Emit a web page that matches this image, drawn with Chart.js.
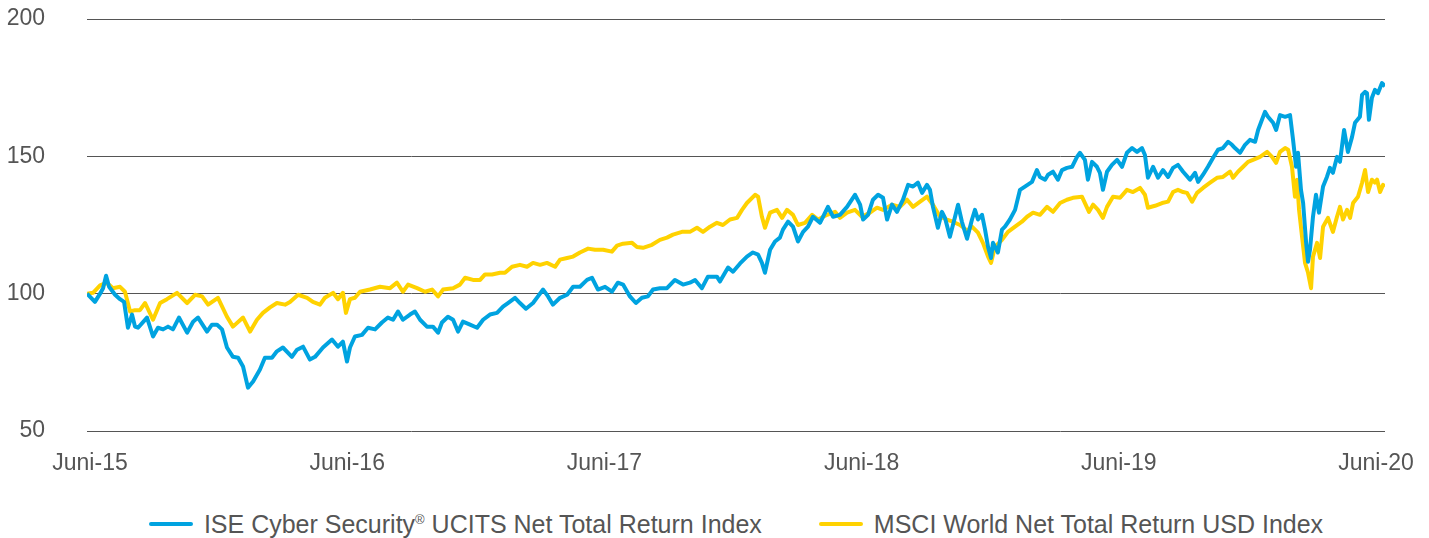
<!DOCTYPE html>
<html>
<head>
<meta charset="utf-8">
<script src="https://cdn.jsdelivr.net/npm/chart.js@4.4.1/dist/chart.umd.min.js"></script>
<style>
  html, body { margin: 0; padding: 0; background: #fff; }
  #wrap { position: relative; width: 1429px; height: 538px; }
  #legend {
    position: absolute; left: 87px; top: 510px; width: 1298px; height: 28px;
    display: flex; justify-content: center; align-items: center;
    font-family: 'Liberation Sans', Arial, sans-serif; font-size: 25px; color: #555;
    line-height: 28px; white-space: nowrap;
  }
  .item { display: flex; align-items: center; }
  .item + .item { margin-left: 57px; }
  .mark { width: 44px; height: 4px; border-radius: 2px; margin-right: 11px; }
  sup { font-size: 13px; line-height: 0; vertical-align: 9px; }
</style>
</head>
<body>
<div id="wrap">
  <canvas id="chart" width="1429" height="495"></canvas>
  <div id="legend">
    <div class="item"><span class="mark" style="background:#00A3E0"></span><span>ISE Cyber Security<sup>®</sup> UCITS Net Total Return Index</span></div>
    <div class="item"><span class="mark" style="background:#FFD200"></span><span>MSCI World Net Total Return USD Index</span></div>
  </div>
</div>
<script>
// x = months since June 2015
const tickMonths = [0, 12, 24, 36, 48, 60];
const tickLabels = ['Juni-15', 'Juni-16', 'Juni-17', 'Juni-18', 'Juni-19', 'Juni-20'];
const yTicks = [50, 100, 150, 200];

// ISE Cyber Security UCITS Net Total Return Index
const iseMonths = [
  -0.14,0.23,0.47,0.61,0.75,0.89,1.17,1.40,1.59,1.77,
  1.96,2.10,2.24,2.66,2.94,3.17,3.41,3.64,3.87,4.15,
  4.53,4.81,5.04,5.46,5.69,5.93,6.16,6.39,6.67,6.91,
  7.14,7.37,7.61,7.93,8.16,8.49,8.72,9.00,9.42,9.66,
  9.94,10.26,10.50,10.87,11.29,11.57,11.80,11.99,12.13,12.36,
  12.69,12.97,13.30,13.62,13.90,14.14,14.37,14.60,14.93,15.16,
  15.40,15.72,16.00,16.24,16.42,16.70,16.94,17.17,17.40,17.73,
  18.06,18.34,18.66,18.99,19.27,19.50,19.83,20.06,20.34,20.67,
  20.90,21.14,21.37,21.60,21.93,22.26,22.54,22.86,23.19,23.42,
  23.70,24.03,24.35,24.63,24.87,25.19,25.47,25.75,26.03,26.27,
  26.59,26.92,27.29,27.67,27.99,28.23,28.55,28.83,29.25,29.39,
  29.77,30.00,30.33,30.65,30.93,31.17,31.35,31.49,31.73,31.96,
  32.19,32.33,32.57,32.80,33.03,33.27,33.50,33.73,34.06,34.43,
  34.67,34.99,35.32,35.69,35.93,36.07,36.30,36.53,36.77,37.00,
  37.19,37.42,37.65,37.93,38.17,38.40,38.63,38.82,39.05,39.19,
  39.33,39.56,39.75,39.89,40.12,40.36,40.50,40.68,40.92,41.15,
  41.29,41.43,41.62,41.76,41.90,42.04,42.13,42.36,42.55,42.69,
  42.92,43.16,43.39,43.62,43.95,44.18,44.32,44.56,44.70,44.93,
  45.16,45.35,45.58,45.82,46.05,46.19,46.42,46.56,46.75,46.98,
  47.12,47.26,47.45,47.68,47.92,48.15,48.38,48.62,48.85,49.08,
  49.22,49.36,49.60,49.83,50.06,50.30,50.53,50.76,51.00,51.32,
  51.56,51.70,51.93,52.16,52.40,52.63,52.86,53.10,53.28,53.42,
  53.66,53.89,54.12,54.36,54.50,54.68,54.82,54.96,55.20,55.34,
  55.52,55.76,55.99,56.13,56.27,56.36,56.50,56.60,56.74,56.83,
  56.92,57.06,57.20,57.34,57.53,57.71,57.85,57.99,58.18,58.32,
  58.51,58.69,58.88,59.02,59.25,59.35,59.49,59.58,59.67,59.81,
  59.95,60.09,60.28,60.42
];
const iseValues = [
  100,97,100,102,106.5,102.5,99.6,98,97,87.6,
  92.4,88,87.6,91.3,84.4,87.6,87,88,87,91.3,
  85.8,89.8,91.3,86.2,88.7,88.7,87,80.4,77,76.7,
  73.5,65.8,68,72.4,76.7,76.7,79,80.4,77,79.6,
  80.7,76,77,80.4,83.3,80.7,82.5,75.3,80.4,84.4,
  85,87.6,87,89.5,91.3,90.5,93.5,90.5,92.4,93.5,
  90.5,88,88,85.8,89.5,91.6,90.5,86.2,89.8,88.7,
  87.6,90.5,92.4,93,95.3,96.6,98.5,96.6,94.5,96.6,
  99,101.5,99,96,98.5,99.6,102.5,102.5,105,105.8,
  101.5,102.5,100.7,104,103.3,99,96.6,98.5,99,101.5,
  102,102,105,103.3,104,105,102,106.2,106.2,104.4,
  109.5,108,111,113.5,115,114.2,111.2,107.6,116,119,
  120.4,123.3,126.2,124.4,119,122.5,124.4,128,125.8,131.6,
  128,128.7,131.6,136,132.4,127,128.7,134.2,136,134.9,
  127,132.4,129.8,134.2,139.6,139,140.4,136.7,139.6,137.8,
  131.6,124,129.8,127.6,120.7,128,132.4,126.2,120,127,
  130.5,127,128.7,123.3,117,113,118.5,115,123.3,124.4,
  127,130.5,137.8,139,140.7,145,142.5,141.5,143.3,144.4,
  141.5,145,145.8,146.2,149.8,151.3,148.7,141.5,148,146.2,
  144,137.8,144.4,146.9,148.7,146.2,151.3,153,151.6,153,
  150.5,142.2,146.2,142.2,145,142.5,145.8,146.9,144.4,141.5,
  144,140.7,143.3,146.2,149.5,152.4,153,155.3,154.2,153,
  151.3,154.2,156,155.3,159.6,163.3,166.2,164.4,162.2,159.6,
  165,164.4,165,156,146.2,151.3,137.8,133,118.5,111.6,
  116,128,136,129.5,139,142.5,145.8,144,149.8,148,
  159.6,151.6,157,162.2,164.4,172.4,173.5,173,163.3,171.3,
  174.2,173,176.7,175.5
];

// MSCI World Net Total Return USD Index
const msciMonths = [
  -0.14,0.14,0.47,0.79,1.07,1.40,1.63,1.87,2.10,2.33,
  2.57,2.94,3.27,3.59,4.06,4.53,4.90,5.23,5.51,5.97,
  6.39,6.67,7.14,7.47,7.79,8.07,8.40,8.72,9.10,9.33,
  9.71,10.13,10.40,10.73,10.96,11.34,11.57,11.80,11.94,12.13,
  12.36,12.60,13.06,13.53,14.00,14.32,14.60,14.84,15.26,15.63,
  15.96,16.24,16.47,16.94,17.26,17.50,17.87,18.20,18.43,18.76,
  19.13,19.36,19.69,20.06,20.39,20.67,21.00,21.32,21.70,21.93,
  22.26,22.54,22.86,23.24,23.56,23.94,24.35,24.59,24.87,25.29,
  25.52,25.80,26.22,26.59,26.92,27.20,27.62,27.99,28.32,28.60,
  28.93,29.25,29.53,29.86,30.19,30.42,30.65,31.03,31.17,31.35,
  31.49,31.73,32.05,32.29,32.52,32.80,33.03,33.36,33.69,33.97,
  34.39,34.76,34.99,35.32,35.69,36.02,36.39,36.72,37.00,37.42,
  37.79,38.12,38.40,38.73,39.05,39.33,39.66,39.98,40.26,40.59,
  40.92,41.15,41.43,41.66,41.90,42.04,42.22,42.55,42.83,43.16,
  43.48,43.72,44.00,44.32,44.65,44.93,45.26,45.58,45.86,46.28,
  46.61,46.80,47.03,47.26,47.45,47.73,48.06,48.38,48.66,48.99,
  49.22,49.36,49.69,50.02,50.30,50.53,50.76,51.00,51.18,51.42,
  51.65,51.93,52.26,52.58,52.86,53.19,53.33,53.56,53.80,54.03,
  54.26,54.59,54.92,55.15,55.34,55.52,55.76,55.90,56.08,56.22,
  56.32,56.41,56.55,56.69,56.83,56.97,57.06,57.25,57.39,57.53,
  57.76,57.99,58.18,58.32,58.46,58.65,58.79,58.93,59.16,59.35,
  59.49,59.63,59.81,59.95,60.05,60.19,60.33,60.42
];
const msciValues = [
  100,100.3,103,104,102,102.5,100.7,93.5,94,94,
  96.6,90.5,96.6,98,100.3,96.6,99.6,99,96,98.5,
  91.6,88,91.3,86.2,90.5,93,95,96.6,96,97,
  99.6,98.5,97,96,98.5,100.3,98,100.3,93,98,
  98.5,100.7,101.5,102.5,102,104,100.7,103.3,102,100.7,
  101.5,99,101.5,102,103.3,105.8,105,105,107,107,
  107.6,107.6,109.8,110.5,109.8,111.2,110.5,111.2,109.8,112.4,
  113,113.5,115,116.4,116,116,115.3,117.5,118.2,118.5,
  117,116.7,117.8,119.6,120.4,121.5,122.5,122.5,124,122.5,
  124.4,125.8,125,127,127.6,130.5,133,136,135.3,128,
  124,129.5,130.5,127.6,130.5,128.7,125,125.8,128.7,127,
  128.7,129.8,127.6,129.5,130.5,128,129.5,131.3,130.5,132.4,
  131.6,134.2,131.6,133.5,135.3,132.4,128,127,126.2,125,
  123,124.4,122.2,118.5,113.5,111.2,117,119.6,122.5,124.4,
  126.2,128,129.5,128.7,131.6,129.8,133,134.2,134.9,135.3,
  129.8,132.4,130.5,127.6,131.6,135.3,134.9,137.8,137,138.5,
  136,131.3,132,133,133.5,137,137.8,137,136.7,133.5,
  136.7,138.5,140.4,142.2,142.5,144.4,142.2,144.4,146.2,148,
  148.7,149.8,151.6,149.8,147.6,151.6,153,152.4,146.2,135.3,
  141.5,130.5,120.7,111.2,107.6,102,113.5,118.5,113,124.4,
  127.6,122.5,128,131.6,127,130.5,127.6,133,135.3,140.4,
  145,137,141.5,140.4,141.5,137,139.6,139
];

const FONT = "'Liberation Sans', Arial, sans-serif";
const TEXT = '#555';

function toPoints(xs, ys) {
  return xs.map((x, i) => ({ x: x, y: ys[i] }));
}

const ctx = document.getElementById('chart').getContext('2d');
new Chart(ctx, {
  type: 'line',
  data: {
    datasets: [
      {
        label: 'ISE Cyber Security® UCITS Net Total Return Index',
        data: toPoints(iseMonths, iseValues),
        borderColor: '#00A3E0',
        backgroundColor: '#00A3E0',
        borderWidth: 4,
        pointRadius: 0,
        tension: 0,
        borderJoinStyle: 'round'
      },
      {
        label: 'MSCI World Net Total Return USD Index',
        data: toPoints(msciMonths, msciValues),
        borderColor: '#FFD200',
        backgroundColor: '#FFD200',
        borderWidth: 4,
        pointRadius: 0,
        tension: 0,
        borderJoinStyle: 'round'
      }
    ]
  },
  options: {
    responsive: false,
    animation: false,
    events: [],
    layout: {
      padding: { top: 19, right: 44, left: 0, bottom: 0 }
    },
    plugins: {
      legend: { display: false },
      tooltip: { enabled: false }
    },
    scales: {
      x: {
        type: 'linear',
        min: -0.14,
        max: 60.42,
        afterBuildTicks: scale => {
          scale.ticks = tickMonths.map(v => ({ value: v }));
        },
        afterFit: scale => {
          scale.height = 64;
          scale.paddingLeft = 0;
          scale.paddingRight = 0;
        },
        ticks: {
          autoSkip: false,
          maxRotation: 0,
          padding: 19,
          color: TEXT,
          font: { family: FONT, size: 23 },
          callback: value => tickLabels[tickMonths.indexOf(value)]
        },
        grid: { display: false, drawTicks: false },
        border: { display: false }
      },
      y: {
        min: 50,
        max: 200,
        afterBuildTicks: scale => {
          scale.ticks = yTicks.map(v => ({ value: v }));
        },
        afterFit: scale => {
          scale.width = 87;
          scale.paddingTop = 0;
          scale.paddingBottom = 0;
        },
        ticks: {
          padding: 42,
          color: TEXT,
          font: { family: FONT, size: 23 }
        },
        grid: { color: '#555', lineWidth: 1, drawTicks: false },
        border: { display: false }
      }
    }
  }
});
</script>
</body>
</html>
